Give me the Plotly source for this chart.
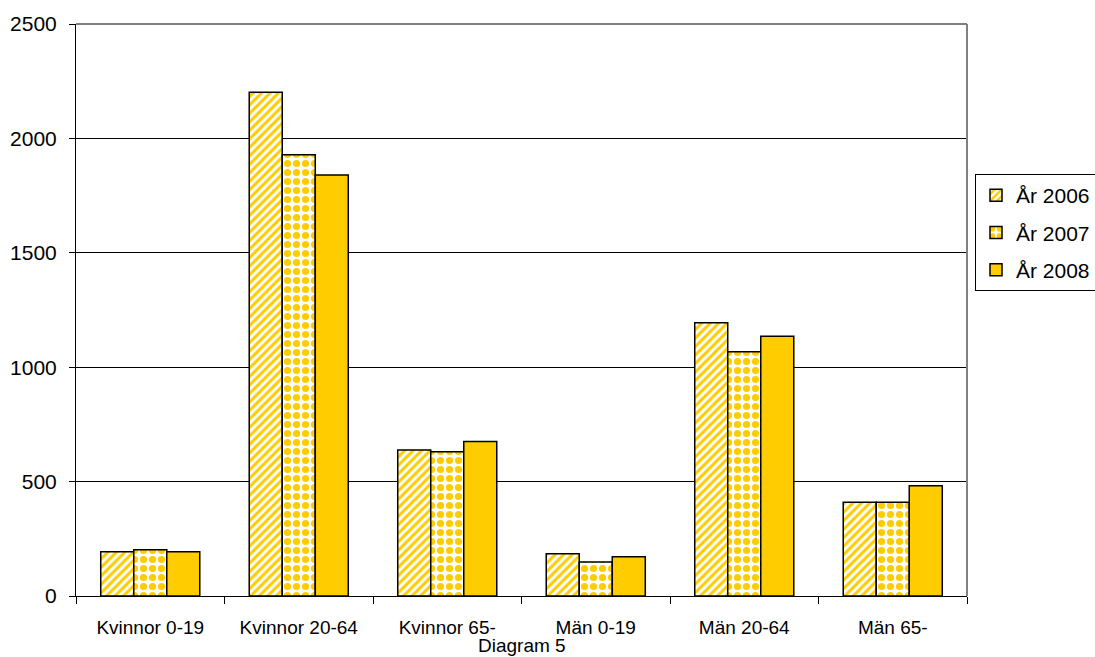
import plotly.graph_objects as go

# Age groups by sex and yearly counts
categories = ["Kvinnor 0-19", "Kvinnor 20-64", "Kvinnor 65-", "Män 0-19", "Män 20-64", "Män 65-"]
years = ["År 2006", "År 2007", "År 2008"]
values_2006 = [193, 2202, 638, 185, 1194, 410]
values_2007 = [202, 1928, 630, 149, 1067, 410]
values_2008 = [193, 1840, 675, 172, 1135, 482]

y_ticks = [0, 500, 1000, 1500, 2000, 2500]

YELLOW = "#FFCC00"
FONT = "Liberation Sans, Arial, sans-serif"

series = [values_2006, values_2007, values_2008]
patterns = [
    dict(shape="/", fgcolor=YELLOW, bgcolor="white", size=6, solidity=0.5, fillmode="replace"),
    dict(shape=".", fgcolor=YELLOW, bgcolor="white", size=9, solidity=0.5, fillmode="replace"),
    None,
]

fig = go.Figure()
for name, vals, pat in zip(years, series, patterns):
    marker = dict(color=YELLOW if pat is None else "white",
                  line=dict(color="black", width=1.5))
    if pat is not None:
        marker["pattern"] = pat
    fig.add_trace(go.Bar(name=name, x=categories, y=vals, marker=marker,
                         legendgroup=name))

fig.update_layout(
    width=1095, height=657,
    margin=dict(l=76, r=128, t=24, b=61, autoexpand=False),
    paper_bgcolor="white", plot_bgcolor="white",
    barmode="group", bargap=0.333, bargroupgap=0,
    font=dict(family=FONT, color="black"),
    showlegend=True,
    legend=dict(
        xref="container", yref="container",
        x=975 / 1095, xanchor="left", y=1 - 174 / 657, yanchor="top",
        bordercolor="black", borderwidth=1, bgcolor="white",
        font=dict(size=21, family=FONT), tracegroupgap=7,
        traceorder="grouped", itemwidth=30,
    ),
    xaxis=dict(
        showline=True, linecolor="black", linewidth=1,
        ticks="outside", tickson="boundaries", ticklen=7, tickcolor="black",
        tickfont=dict(size=19, family=FONT), showgrid=False,
        ticklabelstandoff=14,
    ),
    yaxis=dict(
        range=[0, 2500], tickvals=y_ticks,
        showline=True, linecolor="black", linewidth=1,
        ticks="outside", ticklen=6, tickcolor="black",
        tickfont=dict(size=21, family=FONT), ticklabelstandoff=8,
        showgrid=True, gridcolor="black", gridwidth=1, zeroline=False,
    ),
    annotations=[dict(
        text="Diagram 5", xref="paper", yref="paper",
        x=0.5, y=-0.0874,
        xanchor="center", yanchor="middle", showarrow=False,
        font=dict(size=19, family=FONT, color="black"),
    )],
    shapes=[
        dict(type="line", xref="paper", yref="paper", x0=0, x1=1, y0=1, y1=1,
             line=dict(color="#808080", width=2)),
        dict(type="line", xref="paper", yref="paper", x0=1, x1=1, y0=0, y1=1,
             line=dict(color="#808080", width=2)),
    ],
)

fig.write_html("out.html")
